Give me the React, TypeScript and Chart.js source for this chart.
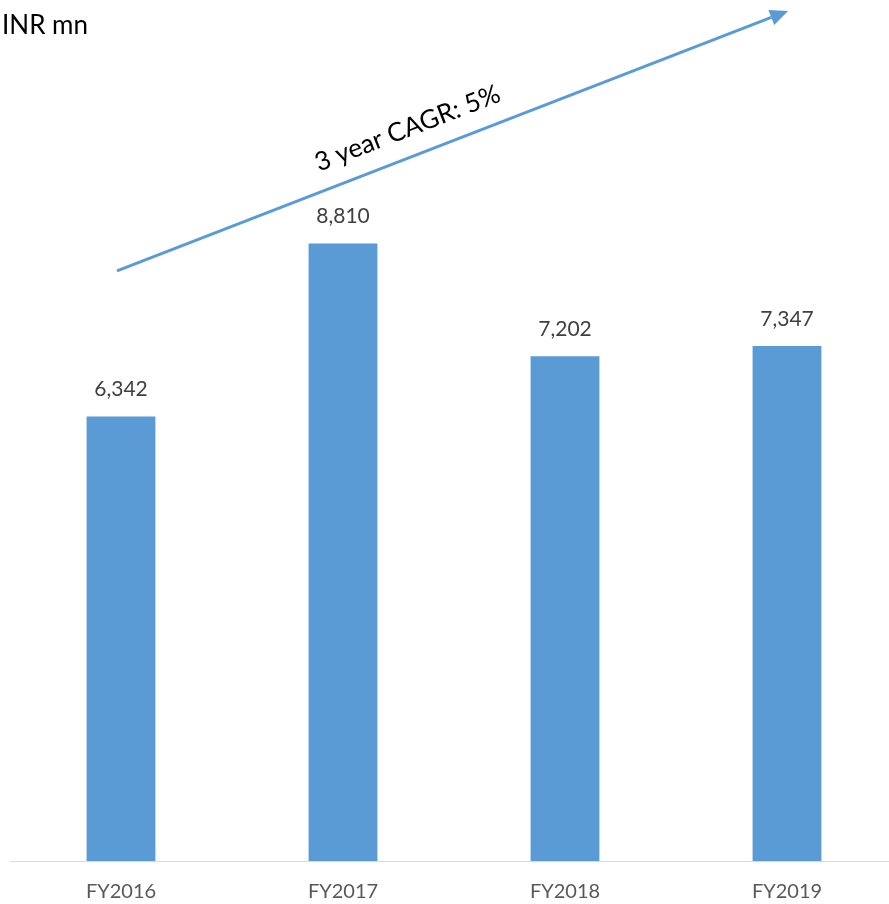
import React, { useEffect, useRef } from "react";
import { Chart, registerables } from "chart.js";

Chart.register(...registerables);

const categories = ["FY2016", "FY2017", "FY2018", "FY2019"];
const values = [6342, 8810, 7202, 7347];
const unitLabel = "INR mn";
const cagrLabel = "3 year CAGR: 5%";
// arrow endpoints in data terms: [category index, value]
const arrowStart = [-0.018, 8419];
const arrowEnd = [3.005, 12129];

const FONT = "Lato, 'Open Sans', sans-serif";

const overlayPlugin = {
  id: "overlay",
  afterDatasetsDraw(chart: any) {
    const ctx = chart.ctx;
    const meta = chart.getDatasetMeta(0);
    ctx.save();
    ctx.fillStyle = "#404040";
    ctx.font = `21px ${FONT}`;
    ctx.textAlign = "center";
    ctx.textBaseline = "middle";
    meta.data.forEach((bar: any, i: number) => {
      ctx.fillText(values[i].toLocaleString("en-US"), bar.x, bar.y - 27);
    });

    // unit label
    ctx.fillStyle = "#000000";
    ctx.font = `26px ${FONT}`;
    ctx.textAlign = "left";
    ctx.fillText(unitLabel, 2, 26);

    // arrow
    const xs = chart.scales.x;
    const ys = chart.scales.y;
    const x1 = xs.getPixelForValue(arrowStart[0]);
    const y1 = ys.getPixelForValue(arrowStart[1]);
    const x2 = xs.getPixelForValue(arrowEnd[0]);
    const y2 = ys.getPixelForValue(arrowEnd[1]);
    const ang = Math.atan2(y2 - y1, x2 - x1);
    const headLen = 18;
    const headW = 8;
    const bx = x2 - headLen * Math.cos(ang);
    const by = y2 - headLen * Math.sin(ang);
    ctx.strokeStyle = "#5b9bd5";
    ctx.fillStyle = "#5b9bd5";
    ctx.lineWidth = 3;
    ctx.beginPath();
    ctx.moveTo(x1, y1);
    ctx.lineTo(bx, by);
    ctx.stroke();
    ctx.beginPath();
    ctx.moveTo(x2, y2);
    ctx.lineTo(bx + headW * Math.sin(ang), by - headW * Math.cos(ang));
    ctx.lineTo(bx - headW * Math.sin(ang), by + headW * Math.cos(ang));
    ctx.closePath();
    ctx.fill();

    // CAGR text along arrow
    const t = 0.448;
    const mx = x1 + (x2 - x1) * t;
    const my = y1 + (y2 - y1) * t;
    const off = 28;
    const tx = mx + off * Math.sin(ang);
    const ty = my - off * Math.cos(ang);
    ctx.translate(tx, ty);
    ctx.rotate(ang);
    ctx.fillStyle = "#000000";
    ctx.font = `26px ${FONT}`;
    ctx.textAlign = "center";
    ctx.textBaseline = "middle";
    ctx.fillText(cagrLabel, 0, 0);
    ctx.restore();
  },
};

export default function App() {
  const ref = useRef<HTMLCanvasElement>(null);
  useEffect(() => {
    if (!ref.current) return;
    const chart = new Chart(ref.current, {
      type: "bar",
      data: {
        labels: categories,
        datasets: [
          {
            data: values,
            backgroundColor: "#5b9bd5",
            borderWidth: 0,
            barPercentage: 0.31,
            categoryPercentage: 1,
          },
        ],
      },
      options: {
        animation: false,
        responsive: false,
        devicePixelRatio: 1,
        layout: { padding: { left: 10, right: 2, top: 20, bottom: 0 } },
        plugins: {
          legend: { display: false },
          tooltip: { enabled: false },
          title: { display: false },
        },
        scales: {
          x: {
            grid: { display: false, drawTicks: false },
            border: { display: true, color: "#d9d9d9", width: 1 },
            ticks: {
              color: "#595959",
              padding: 19,
              font: { family: FONT, size: 20 },
            },
            afterFit: (scale: any) => {
              scale.height = 43;
            },
          },
          y: {
            display: false,
            min: 0,
            max: 12000,
          },
        },
      },
      plugins: [overlayPlugin],
    });
    return () => chart.destroy();
  }, []);
  return (
    <div
      style={{
        position: "fixed",
        left: 0,
        top: 0,
        width: 889,
        height: 904,
        overflow: "hidden",
        background: "#ffffff",
      }}
    >
      <canvas ref={ref} width={900} height={904} style={{ display: "block" }} />
    </div>
  );
}
